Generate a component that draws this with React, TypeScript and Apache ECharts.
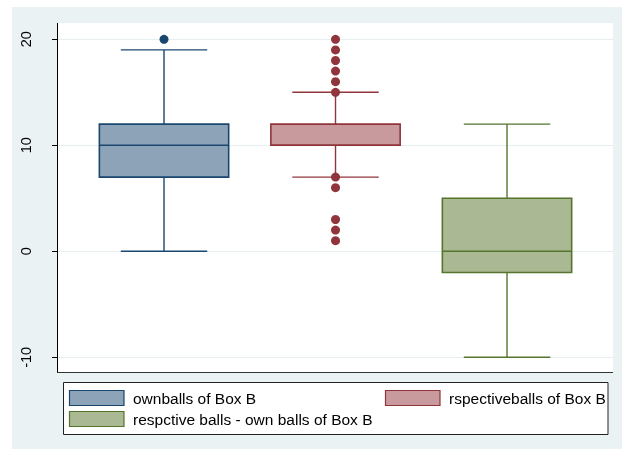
import React, { useEffect, useRef } from "react";
import * as echarts from "echarts";

const categories = [
  "ownballs of Box B",
  "rspectiveballs of Box B",
  "respctive balls - own balls of Box B",
];
const xPositions = [1, 2, 3];
const lowerWhisker = [0, 7, -10];
const q1Values = [7, 10, -2];
const medianValues = [10, 10, 0];
const q3Values = [12, 12, 5];
const upperWhisker = [19, 15, 12];
const outlierValues = [[20], [20, 19, 18, 17, 16, 15, 7, 6, 3, 2, 1], []];
const yTicks = [-10, 0, 10, 20];

const strokeColors = ["#1A476F", "#90353B", "#55752F"];
const fillColors = ["#8DA3B8", "#C89A9E", "#AAB993"];

const FONT = "'Liberation Sans', Arial, sans-serif";

export default function App() {
  const ref = useRef<HTMLDivElement>(null);
  useEffect(() => {
    if (!ref.current) return;
    const chart = echarts.init(ref.current, undefined, { renderer: "svg" });

    const BOX_HALF = 0.377;
    const CAP_HALF = 0.252;

    const boxSeries = categories.map((name, i) => ({
      type: "custom",
      name,
      clip: false,
      z: 3,
      data: [[xPositions[i], lowerWhisker[i], q1Values[i], medianValues[i], q3Values[i], upperWhisker[i]]],
      renderItem: (params: any, api: any) => {
        const x = api.value(0);
        const lo = api.value(1);
        const q1 = api.value(2);
        const med = api.value(3);
        const q3 = api.value(4);
        const hi = api.value(5);
        const c = (xx: number, yy: number) => api.coord([xx, yy]);
        const stroke = strokeColors[i];
        const lineStyle = { stroke, lineWidth: 1.4, fill: null };
        const pHi = c(x, hi), pQ3 = c(x, q3), pQ1 = c(x, q1), pLo = c(x, lo);
        const capHiL = c(x - CAP_HALF, hi), capHiR = c(x + CAP_HALF, hi);
        const capLoL = c(x - CAP_HALF, lo), capLoR = c(x + CAP_HALF, lo);
        const boxTL = c(x - BOX_HALF, q3), boxBR = c(x + BOX_HALF, q1);
        const medL = c(x - BOX_HALF, med), medR = c(x + BOX_HALF, med);
        return {
          type: "group",
          children: [
            { type: "line", shape: { x1: pHi[0], y1: pHi[1], x2: pQ3[0], y2: pQ3[1] }, style: lineStyle },
            { type: "line", shape: { x1: pQ1[0], y1: pQ1[1], x2: pLo[0], y2: pLo[1] }, style: lineStyle },
            { type: "line", shape: { x1: capHiL[0], y1: capHiL[1], x2: capHiR[0], y2: capHiR[1] }, style: lineStyle },
            { type: "line", shape: { x1: capLoL[0], y1: capLoL[1], x2: capLoR[0], y2: capLoR[1] }, style: lineStyle },
            {
              type: "rect",
              shape: { x: boxTL[0], y: boxTL[1], width: boxBR[0] - boxTL[0], height: boxBR[1] - boxTL[1] },
              style: { fill: fillColors[i], stroke, lineWidth: 1.6 },
            },
            { type: "line", shape: { x1: medL[0], y1: medL[1], x2: medR[0], y2: medR[1] }, style: { stroke, lineWidth: 1.6 } },
          ],
        };
      },
    }));

    const outlierSeries = categories.map((name, i) => ({
      type: "scatter",
      name: name + " outliers",
      clip: false,
      z: 4,
      symbol: "circle",
      symbolSize: 9,
      itemStyle: { color: strokeColors[i], opacity: 1 },
      data: outlierValues[i].map((v) => [xPositions[i], v]),
    }));

    const legendX = [69, 385, 69];
    const legendY = [390, 390, 411];
    const legendGraphics: any[] = [
      {
        type: "rect",
        z: 5,
        shape: { x: 63.5, y: 382.5, width: 544.5, height: 52 },
        style: { fill: "#FFFFFF", stroke: "#222222", lineWidth: 1 },
      },
    ];
    categories.forEach((name, i) => {
      legendGraphics.push({
        type: "rect",
        z: 6,
        shape: { x: legendX[i] + 0.5, y: legendY[i] + 0.5, width: 54.5, height: 15 },
        style: { fill: fillColors[i], stroke: strokeColors[i], lineWidth: 1.2 },
      });
      legendGraphics.push({
        type: "text",
        z: 6,
        x: legendX[i] + 64,
        y: legendY[i] + 8.5,
        style: {
          text: name,
          fill: "#000000",
          font: `15.5px ${FONT}`,
          textVerticalAlign: "middle",
          verticalAlign: "middle",
          textAlign: "left",
          align: "left",
        },
      });
    });

    chart.setOption({
      animation: false,
      backgroundColor: "transparent",
      grid: { left: 57, right: 9, top: 39.3, bottom: 92.7, containLabel: false },
      xAxis: {
        type: "value",
        min: 0.376,
        max: 3.618,
        show: false,
      },
      yAxis: {
        type: "value",
        min: -10,
        max: 20,
        interval: 10,
        axisLine: { show: false },
        axisTick: { show: true, length: 5, lineStyle: { color: "#000000", width: 1 } },
        axisLabel: {
          rotate: 90,
          margin: 24,
          fontSize: 14.5,
          fontFamily: FONT,
          color: "#000000",
          formatter: (v: number) => (yTicks.includes(v) ? String(v) : ""),
        },
        splitLine: { show: true, lineStyle: { color: "#E6EEF0", width: 1 } },
      },
      graphic: [
        {
          type: "rect",
          z: -10,
          silent: true,
          shape: { x: 12, y: 7, width: 610, height: 442 },
          style: { fill: "#EAF2F3" },
        },
        {
          type: "rect",
          z: -9,
          silent: true,
          shape: { x: 57, y: 23, width: 556, height: 349 },
          style: { fill: "#FFFFFF" },
        },
        {
          type: "line",
          z: 10,
          shape: { x1: 57.5, y1: 23, x2: 57.5, y2: 372.5 },
          style: { stroke: "#000000", lineWidth: 1 },
        },
        {
          type: "line",
          z: 10,
          shape: { x1: 57, y1: 372.5, x2: 613, y2: 372.5 },
          style: { stroke: "#333333", lineWidth: 1.2 },
        },
        ...legendGraphics,
      ],
      series: [...boxSeries, ...outlierSeries],
    });
    return () => chart.dispose();
  }, []);

  return (
    <div
      ref={ref}
      style={{ position: "fixed", left: 0, top: 0, width: 622, height: 450 }}
    />
  );
}
